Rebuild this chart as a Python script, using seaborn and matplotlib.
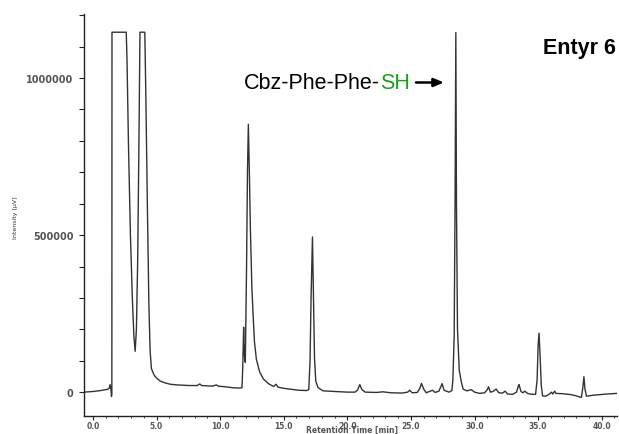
import numpy as np
import pandas as pd
import matplotlib
matplotlib.use("Agg")
import matplotlib.pyplot as plt
from matplotlib.ticker import MultipleLocator
import seaborn as sns

# chromatogram: retention time [min], intensity [x1000 uV]
time_min = [-0.7, 0.0, 0.6, 1.15, 1.28, 1.35, 1.42, 1.46, 1.49, 1.50, 2.62, 2.68, 2.8, 2.95, 3.1,
            3.22, 3.32, 3.42, 3.52, 3.62, 3.7, 4.08, 4.16, 4.28, 4.4, 4.5, 4.6, 4.8, 5.0, 5.3,
            5.7, 6.1, 6.6, 7.1, 7.6, 8.2, 8.4, 8.55, 9.0, 9.4, 9.7, 9.85, 10.4, 11.0, 11.5,
            11.72, 11.78, 11.85, 11.9, 11.98, 12.08, 12.15, 12.22, 12.3, 12.38, 12.5, 12.6, 12.7, 12.85, 13.1,
            13.4, 13.8, 14.2, 14.4, 14.55, 15.0, 15.6, 16.2, 16.8, 16.97, 17.07, 17.15, 17.26, 17.33, 17.42,
            17.52, 17.7, 18.1, 19.0, 20.0, 20.6, 20.8, 20.98, 21.15, 21.4, 22.3, 22.8, 23.4, 24.3, 24.75,
            24.9, 25.1, 25.5, 25.7, 25.83, 26.0, 26.2, 26.45, 26.7, 26.9, 27.2, 27.45, 27.6, 28.0, 28.22,
            28.3, 28.4, 28.47, 28.53, 28.58, 28.66, 28.8, 28.95, 29.1, 29.4, 29.75, 30.0, 30.4, 30.8, 31.0,
            31.1, 31.25, 31.45, 31.7, 31.9, 32.2, 32.4, 32.6, 33.0, 33.3, 33.45, 33.5, 33.65, 33.8, 33.95,
            34.2, 34.6, 34.8, 34.92, 35.0, 35.07, 35.15, 35.25, 35.35, 35.6, 35.9, 36.05, 36.15, 36.3, 36.4,
            36.9, 37.6, 38.0, 38.4, 38.5, 38.6, 38.68, 38.8, 39.3, 40.4, 41.2]
intensity_k = [0, 2, 5, 9, 12, 24, 8, -14, -5, 1146, 1146, 1060, 780, 500, 300,
               180, 130, 200, 420, 800, 1146, 1146, 950, 600, 280, 130, 75, 55, 45, 35,
               29, 25, 23, 22, 21, 21, 26, 21, 20, 19, 23, 19, 17, 14, 13,
               14, 80, 207, 120, 95, 400, 700, 853, 700, 520, 330, 240, 160, 105, 65,
               42, 27, 18, 25, 16, 12, 9, 6, 5, 8, 100, 300, 494, 330, 110,
               35, 14, 4, 2, 0, 0, 6, 24, 8, 0, -1, 1, -2, -3, 0,
               6, -2, -1, 12, 28, 10, -2, 2, 6, -1, 3, 27, 6, 0, 5,
               40, 180, 600, 1145, 600, 200, 70, 35, 10, 4, 8, 0, -4, -2, 8,
               17, 0, 2, 10, -2, -3, 3, -6, -7, 0, 20, 24, 2, -2, 3,
               -5, -7, -7, 40, 150, 188, 120, 20, -12, -13, -6, 0, -6, 3, -4,
               -5, -8, -12, -17, 10, 49, 10, -13, -10, -6, -4]

x_ticks = [0, 5, 10, 15, 20, 25, 30, 35, 40]
x_ticklabels = ["0.0", "5.0", "10.0", "15.0", "20.0", "25.0", "30.0", "35.0", "40.0"]
y_ticks = [0, 500000, 1000000]
y_ticklabels = ["0", "500000", "1000000"]

df = pd.DataFrame({"t": time_min, "uV": np.array(intensity_k) * 1000})

sns.set_style("ticks")
plt.rcParams["font.family"] = ["DejaVu Sans"]

fig = plt.figure(figsize=(6.19, 4.35), dpi=100)
ax = fig.add_axes([84 / 619, 1 - 417 / 435, 533 / 619, 402 / 435])

sns.lineplot(data=df, x="t", y="uV", ax=ax, color="#333333", linewidth=1.0,
             sort=False, estimator=None)

ax.set_xlim(-0.7, 41.2)
ax.set_ylim(-76000, 1204000)
sns.despine(ax=ax)
for s in ["left", "bottom"]:
    ax.spines[s].set_color("#222222")
    ax.spines[s].set_linewidth(1.0)

ax.set_xticks(x_ticks)
ax.set_xticklabels(x_ticklabels)
ax.xaxis.set_minor_locator(MultipleLocator(1))
ax.set_yticks(y_ticks)
ax.set_yticklabels(y_ticklabels)
ax.yaxis.set_minor_locator(MultipleLocator(100000))

ax.tick_params(axis="x", which="major", length=3, width=0.8, pad=0.8, labelsize=5.5,
               labelcolor="#555555", color="#222222")
ax.tick_params(axis="x", which="minor", length=1.5, width=0.6, color="#222222")
ax.tick_params(axis="y", which="both", length=3.6, width=0.8, pad=4, labelsize=7,
               labelcolor="#555555", color="#222222")
for lab in ax.get_yticklabels() + ax.get_xticklabels():
    lab.set_fontweight("bold")

ax.set_xlabel("Retention Time [min]", fontsize=5.5, fontweight="bold", color="#555555",
              va="bottom")
ax.set_ylabel("Intensity [µV]", fontsize=4.5, color="#333333")
ax.xaxis.set_label_coords(0.503, -0.0435)
ax.yaxis.set_label_coords(-0.124, 0.495)

# annotations
t1 = fig.text(244 / 619, 1 - 83.5 / 435, "Cbz-Phe-Phe-", fontsize=15.5,
              family="Liberation Sans", color="black", va="center", ha="left")
ax.annotate("SH", xy=(1, 0), xycoords=t1, va="bottom", ha="left", fontsize=15.5,
            family="Liberation Sans", color="#1ca01c")
ax.annotate("", xy=(444 / 619, 1 - 83.5 / 435), xycoords="figure fraction",
            xytext=(416 / 619, 1 - 83.5 / 435), textcoords="figure fraction",
            arrowprops=dict(arrowstyle="-|>,head_length=0.6,head_width=0.25",
                            color="black", lw=1.8, shrinkA=0, shrinkB=0))
fig.text(616 / 619, 1 - 48.5 / 435, "Entyr 6", fontsize=15.5, fontweight="bold",
         family="Liberation Sans", color="black", va="center", ha="right")

fig.savefig("out.png", dpi=100)
